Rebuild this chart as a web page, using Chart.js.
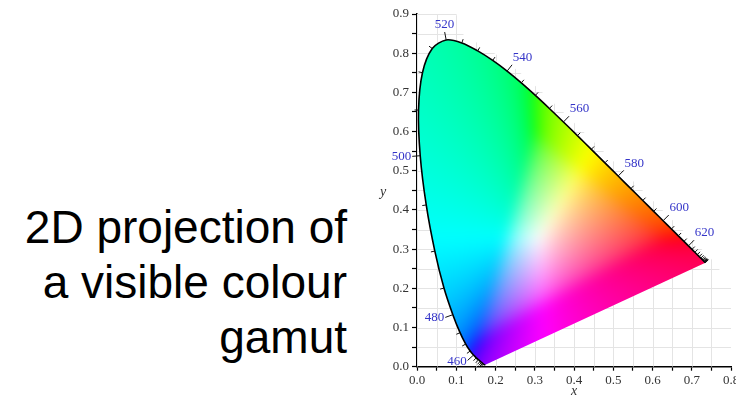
<!DOCTYPE html>
<html><head><meta charset="utf-8">
<script src="https://cdn.jsdelivr.net/npm/chart.js@4"></script>
<style>
html,body{margin:0;padding:0;background:#fff;width:736px;height:398px;overflow:hidden;position:relative}
#caption{position:absolute;right:389px;top:200px;font-family:"Liberation Sans",Arial,sans-serif;font-size:46px;line-height:55px;text-align:right;color:#000;white-space:nowrap}
#wrap{position:absolute;left:340px;top:0;width:420px;height:398px}
</style></head><body>
<div id="caption">2D projection of<br>a visible colour<br>gamut</div>
<div id="wrap"><canvas id="c" width="420" height="398"></canvas></div>
<script>
// CIE 1931 spectral locus (chromaticity x, y) every 5 nm
const wavelengths = [380,385,390,395,400,405,410,415,420,425,430,435,440,445,450,455,460,465,470,475,480,485,490,495,500,505,510,515,520,525,530,535,540,545,550,555,560,565,570,575,580,585,590,595,600,605,610,615,620,625,630,635,640,645,650,655,660,665,670,675,680,685,690,695,700];
const locusX = [0.1741,0.1740,0.1738,0.1736,0.1733,0.1730,0.1726,0.1721,0.1714,0.1703,0.1689,0.1669,0.1644,0.1611,0.1566,0.1510,0.1440,0.1355,0.1241,0.1096,0.0913,0.0687,0.0454,0.0235,0.0082,0.0039,0.0139,0.0389,0.0743,0.1142,0.1547,0.1929,0.2296,0.2658,0.3016,0.3373,0.3731,0.4087,0.4441,0.4788,0.5125,0.5448,0.5752,0.6029,0.6270,0.6482,0.6658,0.6801,0.6915,0.7006,0.7079,0.7140,0.7190,0.7230,0.7260,0.7283,0.7300,0.7311,0.7320,0.7327,0.7334,0.7340,0.7344,0.7346,0.7347];
const locusY = [0.0050,0.0050,0.0049,0.0049,0.0048,0.0048,0.0048,0.0048,0.0051,0.0058,0.0069,0.0086,0.0109,0.0138,0.0177,0.0227,0.0297,0.0399,0.0578,0.0868,0.1327,0.2007,0.2950,0.4127,0.5384,0.6548,0.7502,0.8120,0.8338,0.8262,0.8059,0.7816,0.7543,0.7243,0.6923,0.6589,0.6245,0.5896,0.5547,0.5202,0.4866,0.4544,0.4242,0.3965,0.3725,0.3514,0.3340,0.3197,0.3083,0.2993,0.2920,0.2859,0.2809,0.2770,0.2740,0.2717,0.2700,0.2689,0.2680,0.2673,0.2666,0.2660,0.2656,0.2654,0.2653];
const labeledWavelengths = [460,480,500,520,540,560,580,600,620];
const xAxisRange = [0, 0.8];
const yAxisRange = [0, 0.9];
const tickStep = 0.05;
const xTitle = 'x', yTitle = 'y';

const SERIF = '"Liberation Serif","DejaVu Serif",serif';

function xyToRgb(x, y) {
  if (y < 1e-3) y = 1e-3;
  if (x < 0) x = 0;
  const X = x / y, Y = 1, Z = Math.max(1 - x - y, 0) / y;
  let r = 3.2406 * X - 1.5372 * Y - 0.4986 * Z;
  let g = -0.9689 * X + 1.8758 * Y + 0.0415 * Z;
  let b = 0.0557 * X - 0.2040 * Y + 1.0570 * Z;
  const mn = Math.min(r, g, b);
  if (mn < 0) { r -= mn; g -= mn; b -= mn; }
  const m = Math.max(r, g, b) || 1;
  const gam = v => { v /= m; return v <= 0.0031308 ? 12.92 * v : 1.055 * Math.pow(v, 1 / 2.4) - 0.055; };
  return [gam(r) * 255, gam(g) * 255, gam(b) * 255];
}

function toPx(chart, x, y) {
  return [chart.scales.x.getPixelForValue(x), chart.scales.y.getPixelForValue(y)];
}
function locusNormals(chart) {
  const pts = locusX.map((x, i) => toPx(chart, x, locusY[i]));
  return pts.map((p, i) => {
    const a = pts[Math.max(i - 1, 0)], b = pts[Math.min(i + 1, pts.length - 1)];
    const tx = b[0] - a[0], ty = b[1] - a[1];
    const L = Math.hypot(tx, ty) || 1;
    return { x: p[0], y: p[1], nx: ty / L, ny: -tx / L };
  });
}

let fillCache = null;
const PAD = 30, BLUR = 7;
const gamutPlugin = {
  id: 'gamut',
  beforeDatasetsDraw(chart) {
    const { ctx, chartArea: ca } = chart;
    const xs = chart.scales.x, ys = chart.scales.y;
    const N = locusNormals(chart);
    // faint background grid, clipped to a hull around the locus
    ctx.save();
    ctx.beginPath();
    ctx.moveTo(...toPx(chart, 0, 0));
    ctx.lineTo(...toPx(chart, 0, 0.9));
    ctx.lineTo(...toPx(chart, 0.1, 0.9));
    N.forEach((n, i) => { if (wavelengths[i] >= 525) ctx.lineTo(n.x + n.nx * 7, n.y + n.ny * 7); });
    ctx.lineTo(...toPx(chart, 0.8, 0.21));
    ctx.lineTo(...toPx(chart, 0.8, 0));
    ctx.closePath();
    ctx.clip();
    ctx.strokeStyle = '#e4e4e4';
    ctx.lineWidth = 1;
    ctx.beginPath();
    for (let k = 0; k * tickStep <= xAxisRange[1] + 1e-9; k++) {
      const X = Math.round(xs.getPixelForValue(k * tickStep)) + 0.5;
      ctx.moveTo(X, ca.top); ctx.lineTo(X, ca.bottom);
    }
    for (let k = 0; k * tickStep <= yAxisRange[1] + 1e-9; k++) {
      const Y = Math.round(ys.getPixelForValue(k * tickStep)) + 0.5;
      ctx.moveTo(ca.left, Y); ctx.lineTo(ca.right, Y);
    }
    ctx.stroke();
    ctx.restore();

    // colour fill inside the spectral locus (smoothed)
    const w = Math.ceil(ca.right - ca.left) + 2 * PAD, h = Math.ceil(ca.bottom - ca.top) + 2 * PAD;
    if (!fillCache) {
      const off = document.createElement('canvas');
      off.width = w; off.height = h;
      const octx = off.getContext('2d');
      const img = octx.createImageData(w, h);
      for (let j = 0; j < h; j++) {
        const yv = ys.getValueForPixel(ca.top - PAD + j + 0.5);
        for (let i = 0; i < w; i++) {
          const xv = xs.getValueForPixel(ca.left - PAD + i + 0.5);
          const c = xyToRgb(xv, yv);
          const o = (j * w + i) * 4;
          img.data[o] = c[0]; img.data[o + 1] = c[1]; img.data[o + 2] = c[2]; img.data[o + 3] = 255;
        }
      }
      octx.putImageData(img, 0, 0);
      const bl = document.createElement('canvas');
      bl.width = w; bl.height = h;
      const bctx = bl.getContext('2d');
      bctx.filter = 'blur(' + BLUR + 'px)';
      bctx.drawImage(off, 0, 0);
      fillCache = bl;
    }
    const line = chart.getDatasetMeta(0).dataset;
    ctx.save();
    ctx.beginPath();
    let ok = false;
    try {
      if (line && line.updateControlPoints && line.path) {
        line.updateControlPoints(ca, 'x');
        line.path(ctx);
        ok = true;
      }
    } catch (e) { ok = false; }
    if (!ok) {
      ctx.beginPath();
      N.forEach((n, i) => i ? ctx.lineTo(n.x, n.y) : ctx.moveTo(n.x, n.y));
    }
    ctx.closePath();
    ctx.clip();
    ctx.drawImage(fillCache, ca.left - PAD, ca.top - PAD);
    ctx.restore();
  },
  afterDatasetsDraw(chart) {
    const { ctx } = chart;
    const N = locusNormals(chart);
    ctx.save();
    ctx.strokeStyle = '#111';
    ctx.lineWidth = 1;
    N.forEach((n, i) => {
      const wl = wavelengths[i];
      if (wl < 430) return;
      const L = labeledWavelengths.includes(wl) ? 8 : 4;
      ctx.beginPath();
      ctx.moveTo(n.x, n.y);
      ctx.lineTo(n.x + n.nx * L, n.y + n.ny * L);
      ctx.stroke();
    });
    ctx.fillStyle = '#3434c8';
    ctx.font = '13px ' + SERIF;
    N.forEach((n, i) => {
      const wl = wavelengths[i];
      if (!labeledWavelengths.includes(wl)) return;
      const ex = n.x + n.nx * 9, ey = n.y + n.ny * 9;
      ctx.textAlign = n.nx > 0.3 ? 'left' : (n.nx < -0.3 ? 'right' : 'center');
      ctx.textBaseline = n.ny < -0.5 ? 'bottom' : (n.ny > 0.8 ? 'top' : 'middle');
      ctx.fillText(String(wl), ex, ey);
    });
    ctx.restore();
  },
  afterDraw(chart) {
    // upright italic y-axis title
    const { ctx, chartArea: ca } = chart;
    const ys = chart.scales.y;
    ctx.save();
    ctx.fillStyle = '#333';
    ctx.font = 'italic 14px ' + SERIF;
    ctx.textAlign = 'center';
    ctx.textBaseline = 'alphabetic';
    ctx.fillText(yTitle, ys.left + 43, (ca.top + ca.bottom) / 2 + 6);
    ctx.restore();
  }
};

const isMajor = v => Math.round(v / tickStep) % 2 === 0;
const tickFont = { family: SERIF, size: 13 };

new Chart(document.getElementById('c'), {
  type: 'scatter',
  data: {
    datasets: [{
      data: wavelengths.map((w, i) => ({ x: locusX[i], y: locusY[i] })),
      showLine: true,
      borderColor: '#000',
      borderWidth: 1.6,
      pointRadius: 0,
      tension: 0.3,
      fill: false
    }]
  },
  options: {
    responsive: false,
    animation: false,
    events: [],
    layout: { padding: { left: 0, top: 14, right: 29, bottom: 0 } },
    plugins: { legend: { display: false }, tooltip: { enabled: false }, title: { display: false } },
    scales: {
      x: {
        type: 'linear', position: 'bottom', min: xAxisRange[0], max: xAxisRange[1],
        ticks: { stepSize: tickStep, autoSkip: false, maxRotation: 0, color: '#333', font: tickFont, padding: 2,
          callback: v => isMajor(v) ? (Math.round(v * 10) / 10).toFixed(1) : '' },
        grid: { display: true, drawOnChartArea: false, drawTicks: true, tickLength: 4, tickColor: '#000', tickWidth: 1.2 },
        border: { display: true, color: '#000', width: 1.5 },
        title: { display: true, text: xTitle, color: '#333', font: { family: SERIF, size: 14, style: 'italic', lineHeight: 1 }, padding: 0 },
        afterFit: s => { s.height = 31.3; }
      },
      y: {
        type: 'linear', position: 'left', min: yAxisRange[0], max: yAxisRange[1],
        ticks: { stepSize: tickStep, autoSkip: false, color: '#333', font: tickFont, padding: 3,
          callback: v => isMajor(v) ? (Math.round(v * 10) / 10).toFixed(1) : '' },
        grid: { display: true, drawOnChartArea: false, drawTicks: true, tickLength: 5, tickColor: '#000', tickWidth: 1.2 },
        border: { display: true, color: '#000', width: 1.5 },
        title: { display: false },
        afterFit: s => { s.width = 77; }
      }
    }
  },
  plugins: [gamutPlugin]
});
</script>
</body></html>
